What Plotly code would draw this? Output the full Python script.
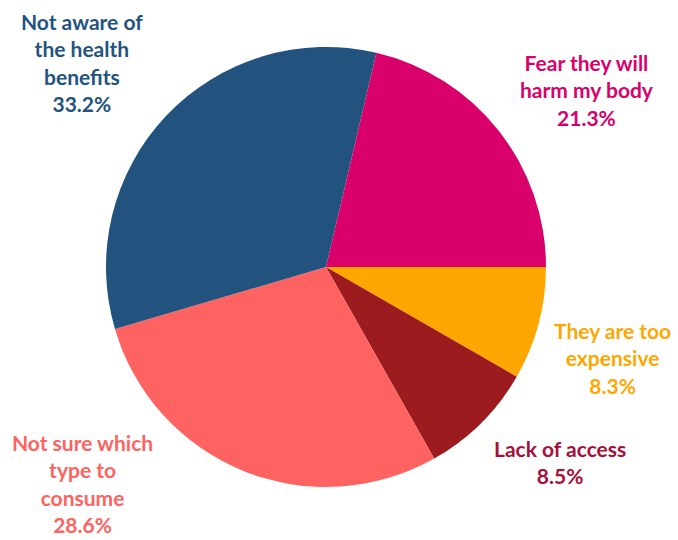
import plotly.graph_objects as go

categories = ["They are too expensive", "Lack of access", "Not sure which type to consume",
              "Not aware of the health benefits", "Fear they will harm my body"]
values = [8.3, 8.5, 28.6, 33.2, 21.3]
label_texts = ["They are too<br>expensive", "Lack of access", "Not sure which<br>type to<br>consume",
               "Not aware of<br>the health<br>benefits", "Fear they will<br>harm my body"]
slice_colors = ["#FFA600", "#9B1B1E", "#FF6361", "#22537F", "#D9006C"]
text_colors = ["#FFA600", "#A6103A", "#FF6361", "#22537F", "#D9006C"]
label_pos = [(612, 358), (560, 462), (82, 483), (82, 62), (587, 90)]

W, H = 678, 540
fig = go.Figure(go.Pie(
    labels=categories, values=values, sort=False, direction="clockwise", rotation=90,
    marker=dict(colors=slice_colors, line=dict(width=0)),
    textinfo="none", hoverinfo="label+percent",
    domain=dict(x=[106 / W, 546 / W], y=[1 - 487 / H, 1 - 47 / H]),
    showlegend=False,
))

for txt, v, c, (px, py) in zip(label_texts, values, text_colors, label_pos):
    fig.add_annotation(x=px / W, y=1 - py / H, xref="paper", yref="paper",
                       text=f"<b>{txt}<br>{v:.1f}%</b>", showarrow=False,
                       xanchor="center", yanchor="middle", align="center",
                       font=dict(family="Lato", size=21, color=c))

fig.update_layout(width=W, height=H, margin=dict(l=0, r=0, t=0, b=0),
                  paper_bgcolor="white", plot_bgcolor="white")
fig.write_html("out.html")
